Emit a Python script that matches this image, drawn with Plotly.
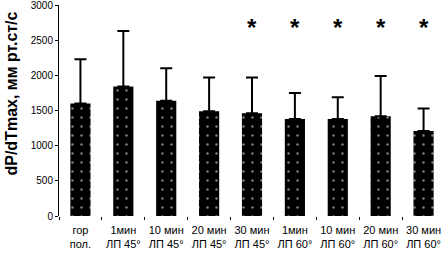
import plotly.graph_objects as go

categories = ["гор<br>пол.", "1мин<br>ЛП 45°", "10 мин<br>ЛП 45°", "20 мин<br>ЛП 45°",
              "30 мин<br>ЛП 45°", "1мин<br>ЛП 60°", "10 мин<br>ЛП 60°", "20 мин<br>ЛП 60°",
              "30 мин<br>ЛП 60°"]
means = [1600, 1840, 1640, 1490, 1460, 1380, 1380, 1420, 1210]
sd_upper = [630, 790, 460, 480, 510, 370, 310, 570, 320]
significant = [False, False, False, False, True, True, True, True, True]
y_ticks = [0, 500, 1000, 1500, 2000, 2500, 3000]

FONT = "Liberation Sans"

fig = go.Figure()
fig.add_trace(go.Bar(
    x=categories, y=means,
    marker=dict(color="black", line=dict(width=0),
                pattern=dict(shape=".", fgcolor="white", bgcolor="black",
                             size=9, solidity=0.06)),
    error_y=dict(type="data", symmetric=False, array=sd_upper,
                 arrayminus=[0] * len(means), color="black", thickness=2, width=6),
))

for c, m, s, sig in zip(categories, means, sd_upper, significant):
    if sig:
        fig.add_annotation(x=c, y=2680, text="<b>*</b>", showarrow=False,
                           font=dict(family=FONT, size=24, color="black"),
                           xref="x", yref="y")

fig.add_annotation(xref="paper", yref="paper", x=-0.122, y=0.58, xanchor="center",
                   yanchor="middle", text="<b>dP/dTmax, мм рт.ст/с</b>",
                   textangle=-90, showarrow=False,
                   font=dict(family=FONT, size=16, color="black"))

fig.update_layout(
    width=445, height=255,
    margin=dict(l=59, r=0, t=5, b=39, autoexpand=False),
    paper_bgcolor="white", plot_bgcolor="white",
    bargap=0.53, showlegend=False,
    font=dict(family=FONT, size=10, color="black"),
)
fig.update_xaxes(showline=False, ticks="outside", tickson="boundaries", ticklen=3,
                 tickcolor="black", tickwidth=1, showgrid=False, automargin=False,
                 ticklabeloverflow="allow", ticklabelstandoff=6, tickangle=0,
                 tickfont=dict(family=FONT, size=11, color="black"))
fig.update_yaxes(range=[0, 3000], tickvals=y_ticks, showline=True, linecolor="black",
                 linewidth=1, ticks="outside", ticklen=3, tickcolor="black",
                 showgrid=False, zeroline=False, automargin=False,
                 ticklabeloverflow="allow",
                 tickfont=dict(family=FONT, size=10, color="black"))

fig.write_html("out.html", config={"displayModeBar": False},
               post_script="document.body.style.margin='0';document.body.style.overflow='hidden';")
